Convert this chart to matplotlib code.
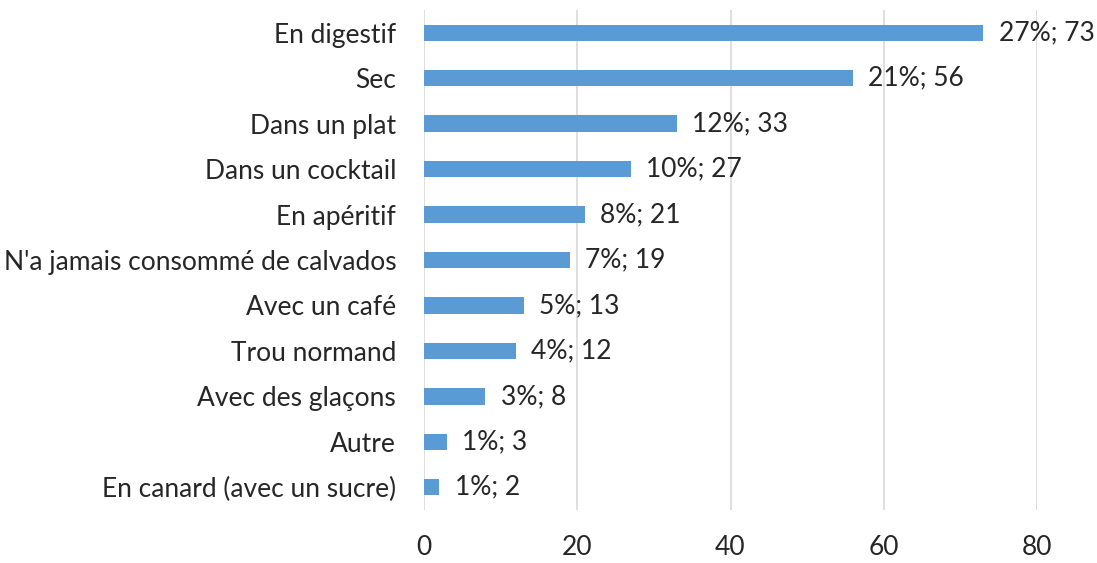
import matplotlib.pyplot as plt

plt.rcParams['font.family'] = ['Lato', 'DejaVu Sans']

categories = [
    "En digestif",
    "Sec",
    "Dans un plat",
    "Dans un cocktail",
    "En apéritif",
    "N'a jamais consommé de calvados",
    "Avec un café",
    "Trou normand",
    "Avec des glaçons",
    "Autre",
    "En canard (avec un sucre)",
]
counts = [73, 56, 33, 27, 21, 19, 13, 12, 8, 3, 2]
percents = [27, 21, 12, 10, 8, 7, 5, 4, 3, 1, 1]

bar_color = "#5B9BD5"
text_color = "#262626"
fs = 19

fig = plt.figure(figsize=(10.97, 5.63), dpi=100)
ax = fig.add_axes([424 / 1097, 53 / 563, (1037 - 424) / 1097, 500 / 563])

y = list(range(len(categories)))
ax.barh(y, counts, height=0.36, color=bar_color, zorder=3)

for yi, c, p in zip(y, counts, percents):
    ax.annotate(f"{p}%; {c}", (c, yi), xytext=(11, 0), textcoords="offset points",
                va="center", ha="left", fontsize=fs, color=text_color, zorder=4)

ax.set_yticks(y)
ax.set_yticklabels(categories, fontsize=fs, color=text_color)
ax.set_ylim(len(categories) - 0.5, -0.5)
ax.set_xlim(0, 80)
ax.set_xticks([0, 20, 40, 60, 80])
ax.tick_params(axis="x", labelsize=fs, labelcolor=text_color, length=0, pad=18)
ax.tick_params(axis="y", length=0, pad=20)

ax.grid(axis="x", color="#D9D9D9", linewidth=1.2, zorder=0)
for s in ax.spines.values():
    s.set_visible(False)

fig.savefig("out.png", dpi=100)
